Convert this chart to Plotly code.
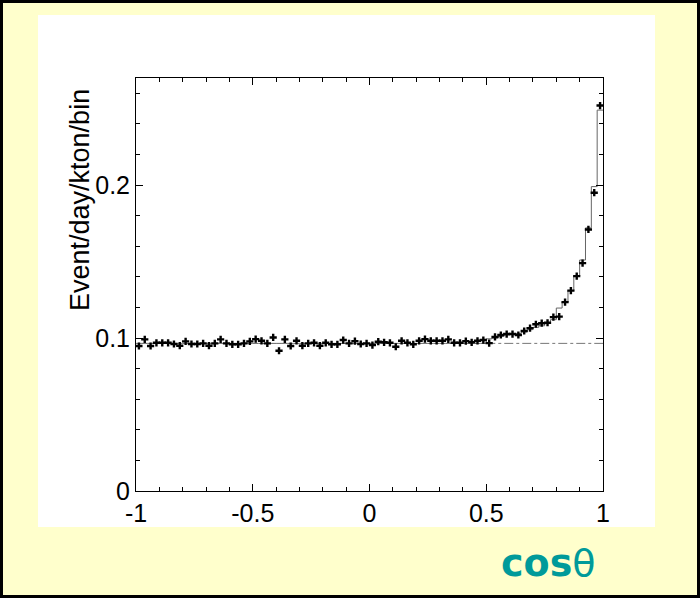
import plotly.graph_objects as go

# ---- data ----
bin_width = 0.025
bin_centers = [round(-0.9875 + 0.025 * i, 4) for i in range(80)]
data_values = [
    0.0948, 0.0991, 0.0948, 0.0969, 0.0969, 0.0969, 0.0961, 0.0950, 0.0978, 0.0961,
    0.0961, 0.0965, 0.0950, 0.0965, 0.0991, 0.0965, 0.0959, 0.0959, 0.0965, 0.0978,
    0.0993, 0.0982, 0.0965, 0.1004, 0.0917, 0.0991, 0.0948, 0.0982, 0.0950, 0.0965,
    0.0969, 0.0950, 0.0969, 0.0959, 0.0959, 0.0987, 0.0965, 0.0980, 0.0961, 0.0965,
    0.0954, 0.0976, 0.0972, 0.0969, 0.0943, 0.0982, 0.0969, 0.0959, 0.0982, 0.0993,
    0.0982, 0.0982, 0.0982, 0.0991, 0.0969, 0.0969, 0.0980, 0.0972, 0.0982, 0.0987,
    0.0967, 0.1007, 0.1020, 0.1026, 0.1026, 0.1020, 0.1046, 0.1065, 0.1090, 0.1097,
    0.1100, 0.1137, 0.1140, 0.1235, 0.1310, 0.1405, 0.1490, 0.1710, 0.1950, 0.2520,
]
mc_values = [0.0965] * 60 + [
    0.0995, 0.1000, 0.1010, 0.1020, 0.1025, 0.1030, 0.1040, 0.1055, 0.1070, 0.1080,
    0.1100, 0.1120, 0.1196, 0.1235, 0.1310, 0.1405, 0.1510, 0.1720, 0.1990, 0.2490,
]
background_level = 0.0965
x_ticks = [-1, -0.5, 0, 0.5, 1]
x_tick_labels = ["-1", "-0.5", "0", "0.5", "1"]
y_ticks = [0, 0.1, 0.2]
y_tick_labels = ["0", "0.1", "0.2"]

# ---- figure ----
L, R, T, B = 136, 603, 78, 491
W, H = 700, 598
pw, ph = R - L, B - T


def px(x):
    return (x - L) / pw


def py(y):
    return (B - y) / ph


fig = go.Figure()

edges = [c - bin_width / 2 for c in bin_centers] + [1.0]
fig.add_trace(go.Scatter(
    x=edges, y=mc_values + [mc_values[-1]], mode="lines", line_shape="hv",
    line=dict(color="#666666", width=1), hoverinfo="skip", showlegend=False))
fig.add_trace(go.Scatter(
    x=[0.5, 1.0], y=[background_level, background_level], mode="lines",
    line=dict(color="#777777", width=1, dash="dashdot"), showlegend=False))
fig.add_trace(go.Scatter(
    x=bin_centers, y=data_values, mode="markers",
    marker=dict(symbol="cross", size=6, color="black"), showlegend=False))

tick_font = dict(size=25, family="Liberation Sans, Arial, sans-serif", color="black")

fig.update_layout(
    width=W, height=H,
    margin=dict(l=L, r=W - R, t=T, b=H - B, pad=0),
    paper_bgcolor="#FFFFCC",
    plot_bgcolor="white",
    font=dict(family="Liberation Sans, Arial, sans-serif", color="black", size=21),
    xaxis=dict(range=[-1, 1], tickvals=x_ticks, ticktext=x_tick_labels,
               ticks="inside", ticklen=7, tickwidth=1, tickcolor="black",
               showline=True, linecolor="black", linewidth=1, mirror="ticks",
               showgrid=False, zeroline=False,
               minor=dict(dtick=0.1, ticks="inside", ticklen=4, tickcolor="black", showgrid=False),
               tickfont=tick_font),
    yaxis=dict(range=[0, 0.27], tickvals=y_ticks, ticktext=y_tick_labels,
               ticks="inside", ticklen=7, tickwidth=1, tickcolor="black",
               showline=True, linecolor="black", linewidth=1, mirror="ticks",
               showgrid=False, zeroline=False,
               minor=dict(dtick=0.02, ticks="inside", ticklen=4, tickcolor="black", showgrid=False),
               tickfont=tick_font),
    shapes=[
        dict(type="rect", xref="paper", yref="paper", layer="below",
             x0=px(38), x1=px(655), y0=py(527), y1=py(15),
             fillcolor="white", line=dict(width=0)),
        dict(type="rect", xref="paper", yref="paper",
             x0=px(1.5), x1=px(698.5), y0=py(596.5), y1=py(1.5),
             line=dict(color="black", width=3)),
    ],
    annotations=[
        dict(text="Event/day/kton/bin", xref="paper", yref="paper",
             x=px(80), y=py(200), textangle=-90, showarrow=False,
             font=dict(size=27, color="black"), xanchor="center", yanchor="middle"),
        dict(text="<b>cos</b>θ", xref="paper", yref="paper",
             x=px(548), y=py(563), showarrow=False,
             font=dict(size=38, color="#009A9A", family="DejaVu Sans, sans-serif"),
             xanchor="center", yanchor="middle"),
    ],
)

fig.write_html("out.html")
